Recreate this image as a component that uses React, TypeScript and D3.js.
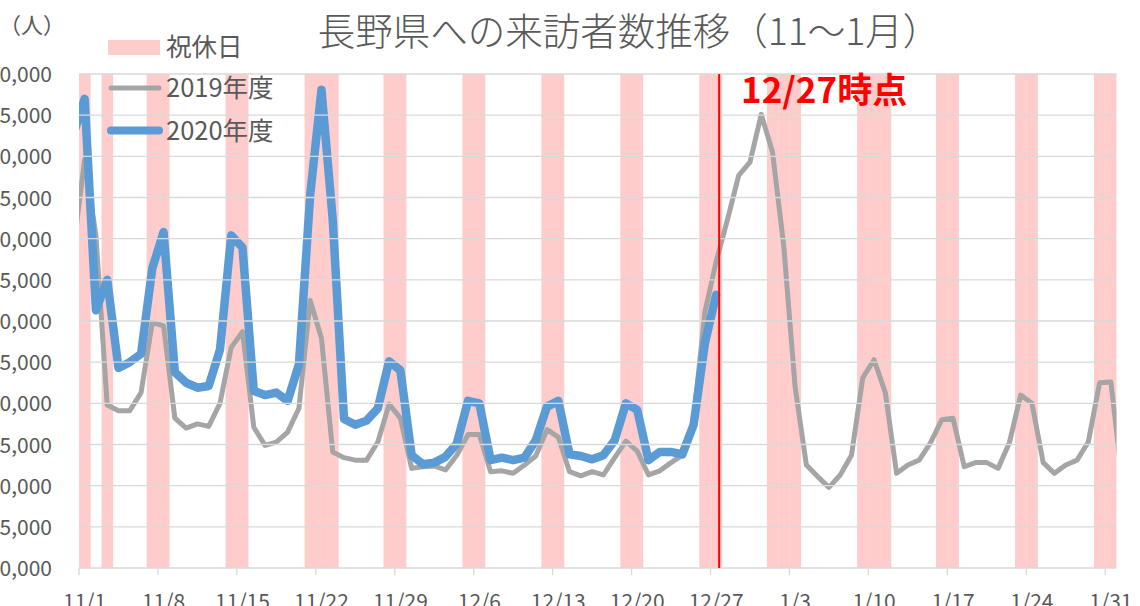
import { useRef, useEffect } from 'react';
import * as d3 from 'd3';

// categories run 10/31 .. 2/1 (10/31 and 2/1 fall outside the plot and get clipped)
const dates = d3
  .timeDays(new Date(2020, 9, 31), new Date(2021, 1, 2))
  .map(d3.timeFormat('%-m/%-d'));

const tickLabels = ['11/1', '11/8', '11/15', '11/22', '11/29', '12/6', '12/13', '12/20', '12/27', '1/3', '1/10', '1/17', '1/24', '1/31'];

const holidays = [
  '10/31', '11/1', '11/3', '11/7', '11/8', '11/14', '11/15', '11/21', '11/22', '11/23',
  '11/28', '11/29', '12/5', '12/6', '12/12', '12/13', '12/19', '12/20', '12/26', '12/27',
  '1/1', '1/2', '1/3', '1/9', '1/10', '1/11', '1/16', '1/17', '1/23', '1/24', '1/30', '1/31',
];

const visitors2019 = [
  48600, 59600, 50400, 29800, 29100, 29100, 31300, 39800, 39400, 28200,
  27000, 27500, 27200, 30000, 36800, 38700, 27100, 24900, 25300, 26500,
  29400, 42500, 37900, 24100, 23400, 23100, 23100, 25300, 29900, 28200,
  22100, 22300, 22400, 21900, 23700, 26200, 26200, 21700, 21800, 21500,
  22500, 23600, 26800, 25900, 21700, 21200, 21700, 21300, 23400, 25400,
  24200, 21300, 21800, 22800, 23700, 28000, 41100, 47200, 52300, 57700,
  59300, 65100, 60500, 49000, 32000, 22500, 21100, 19800, 21300, 23700,
  33100, 35300, 31300, 21500, 22500, 23100, 25200, 28000, 28200, 22300,
  22800, 22800, 22100, 25200, 31000, 30000, 22800, 21500, 22500, 23100,
  25300, 32500, 32600, 20700,
];

const visitors2020 = [
  62600, 67000, 41300, 45000, 34300, 35000, 36000, 46400, 50800, 33800,
  32500, 31900, 32100, 36500, 50400, 48900, 31500, 31000, 31300, 30300,
  34700, 55300, 68100, 52300, 28100, 27400, 27900, 29400, 35100, 34000,
  23700, 22600, 22800, 23500, 25100, 30300, 30000, 23100, 23400, 23100,
  23400, 25500, 29600, 30300, 23800, 23600, 23200, 23700, 25500, 30000,
  29200, 23100, 24100, 24100, 23800, 27400, 37300, 43200,
];

const yTicks = [10000, 15000, 20000, 25000, 30000, 35000, 40000, 45000, 50000, 55000, 60000, 65000, 70000];

const W = 1140;
const H = 606;
const plot = { left: 79, right: 1116.5, top: 74, bottom: 568 };

const textColor = '#595959';
const gridColor = '#d9d9d9';
const pink = '#ffcccc';
const gray = '#a5a5a5';
const blue = '#5b9bd5';
const font = '"Noto Sans CJK JP", "Noto Sans", sans-serif';

const Chart = () => {
  const ref = useRef(null);

  useEffect(() => {
    const svg = d3.select(ref.current);
    svg.selectAll('*').remove();

    // category j occupies [x(j), x(j+1)]; 11/1 is j=1
    const x = d3.scaleLinear().domain([1, 93]).range([plot.left, plot.right]);
    const y = d3.scaleLinear().domain([10000, 70000]).range([plot.bottom, plot.top]);
    const idx = (d) => dates.indexOf(d);

    svg
      .append('clipPath')
      .attr('id', 'plot-clip')
      .append('rect')
      .attr('x', plot.left)
      .attr('y', plot.top - 10)
      .attr('width', plot.right - plot.left)
      .attr('height', plot.bottom - plot.top + 10);

    const inner = svg.append('g').attr('clip-path', 'url(#plot-clip)');

    // holiday bands
    inner
      .selectAll('rect.band')
      .data(holidays)
      .enter()
      .append('rect')
      .attr('x', (d) => x(idx(d)))
      .attr('width', x(2) - x(1) + 0.3)
      .attr('y', plot.top)
      .attr('height', plot.bottom - plot.top)
      .attr('fill', pink);

    // gridlines
    svg
      .append('g')
      .selectAll('line')
      .data(yTicks)
      .enter()
      .append('line')
      .attr('x1', plot.left)
      .attr('x2', plot.right)
      .attr('y1', (d) => y(d))
      .attr('y2', (d) => y(d))
      .attr('stroke', gridColor)
      .attr('stroke-width', 1.3);

    // y labels (left digits fall off the picture, as in the original crop)
    svg
      .append('g')
      .selectAll('text')
      .data(yTicks)
      .enter()
      .append('text')
      .text((d) => d3.format(',')(d))
      .attr('x', 52)
      .attr('y', (d) => y(d) + 8)
      .attr('text-anchor', 'end')
      .attr('font-size', 21)
      .attr('font-family', font)
      .attr('fill', textColor);

    // x ticks + labels
    svg
      .append('g')
      .selectAll('line')
      .data(tickLabels)
      .enter()
      .append('line')
      .attr('x1', (d) => x(idx(d)))
      .attr('x2', (d) => x(idx(d)))
      .attr('y1', plot.bottom)
      .attr('y2', plot.bottom + 7)
      .attr('stroke', gridColor)
      .attr('stroke-width', 1.3);

    svg
      .append('g')
      .selectAll('text')
      .data(tickLabels)
      .enter()
      .append('text')
      .text((d) => d)
      .attr('x', (d) => x(idx(d) + 0.5))
      .attr('y', 609)
      .attr('text-anchor', 'middle')
      .attr('font-size', 21)
      .attr('font-family', font)
      .attr('fill', textColor);

    const line = d3
      .line()
      .x((d, i) => x(i + 0.5))
      .y((d) => y(d));

    inner
      .append('path')
      .datum(visitors2019)
      .attr('d', line)
      .attr('fill', 'none')
      .attr('stroke', gray)
      .attr('stroke-width', 5)
      .attr('stroke-linejoin', 'round')
      .attr('stroke-linecap', 'round');

    inner
      .append('path')
      .datum(visitors2020)
      .attr('d', line)
      .attr('fill', 'none')
      .attr('stroke', blue)
      .attr('stroke-width', 8.5)
      .attr('stroke-linejoin', 'round')
      .attr('stroke-linecap', 'round');

    // "as of 12/27" marker
    const markX = x(idx('12/27') + 0.5) + 3;
    svg
      .append('line')
      .attr('x1', markX)
      .attr('x2', markX)
      .attr('y1', plot.top)
      .attr('y2', plot.bottom)
      .attr('stroke', '#ff0000')
      .attr('stroke-width', 2);

    svg
      .append('text')
      .text('12/27時点')
      .attr('x', 741)
      .attr('y', 103)
      .attr('font-size', 35)
      .attr('font-weight', 'bold')
      .attr('font-family', font)
      .attr('fill', '#ff0000');

    // title
    svg
      .append('text')
      .text('長野県への来訪者数推移（11～1月）')
      .attr('x', 629)
      .attr('y', 45)
      .attr('text-anchor', 'middle')
      .attr('font-size', 37.5)
      .attr('font-weight', 300)
      .attr('font-family', font)
      .attr('fill', textColor);

    svg
      .append('text')
      .text('（人）')
      .attr('x', -1)
      .attr('y', 33)
      .attr('font-size', 22)
      .attr('font-family', font)
      .attr('fill', textColor);

    // legend
    const legend = svg.append('g').attr('font-family', font).attr('font-size', 25.5).attr('fill', textColor);
    legend.append('rect').attr('x', 108).attr('y', 40).attr('width', 52).attr('height', 15).attr('fill', pink);
    legend.append('text').text('祝休日').attr('x', 166).attr('y', 56);

    const items = [
      { label: '2019年度', color: gray, width: 5, cy: 88 },
      { label: '2020年度', color: blue, width: 8, cy: 130.5 },
    ];
    items.forEach((it) => {
      legend
        .append('line')
        .attr('x1', 111)
        .attr('x2', 159)
        .attr('y1', it.cy)
        .attr('y2', it.cy)
        .attr('stroke', it.color)
        .attr('stroke-width', it.width)
        .attr('stroke-linecap', 'round');
      legend.append('text').text(it.label).attr('x', 166).attr('y', it.cy + 9);
    });
  }, []);

  return <svg ref={ref} width={W} height={H} style={{ display: 'block', background: 'white' }}></svg>;
};

export default function App() {
  return (
    <div style={{ position: 'absolute', left: 0, top: 0, width: W, height: H, background: 'white' }}>
      <Chart />
    </div>
  );
}
